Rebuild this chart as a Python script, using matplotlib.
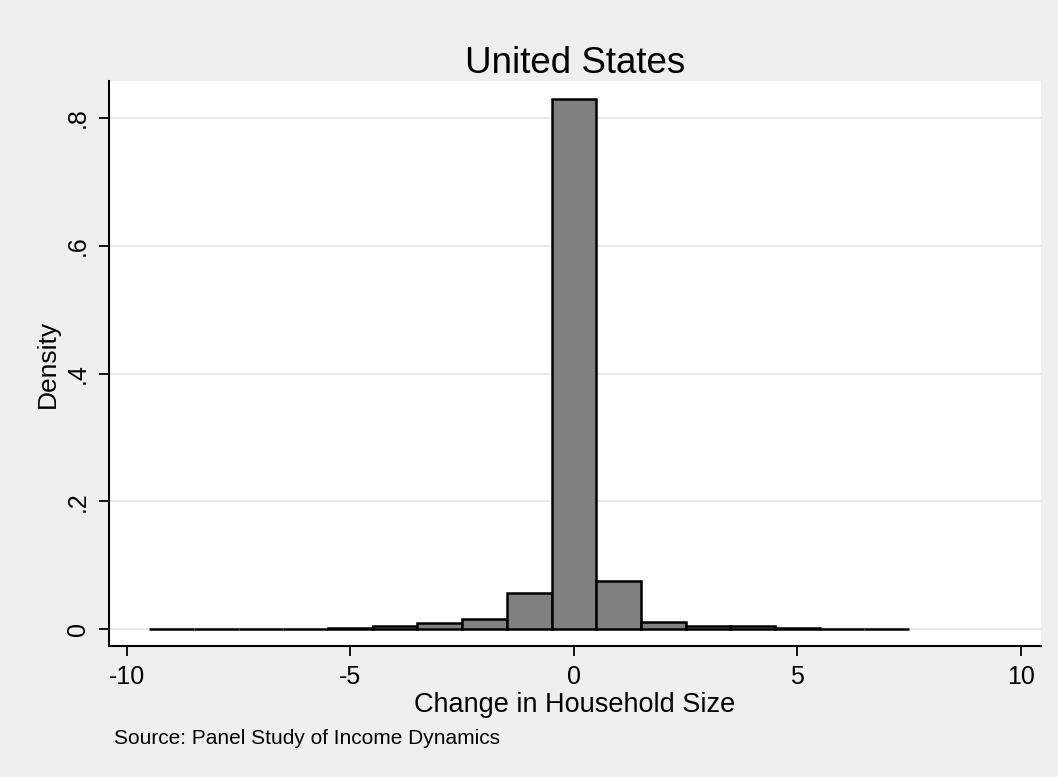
import numpy as np
from matplotlib import pyplot as plt

plt.rcParams['font.family'] = ['Liberation Sans', 'DejaVu Sans']

# bin centres (change in household size) and densities
change = [-9, -8, -7, -6, -5, -4, -3, -2, -1, 0, 1, 2, 3, 4, 5, 6, 7]
density = [0.0005, 0.0005, 0.0005, 0.0006, 0.0008, 0.005, 0.009, 0.0155,
           0.056, 0.830, 0.075, 0.0115, 0.0045, 0.0045, 0.001, 0.0006, 0.0005]

xticks = [-10, -5, 0, 5, 10]
xticklabels = ["-10", "-5", "0", "5", "10"]
yticks = [0, 0.2, 0.4, 0.6, 0.8]
yticklabels = ["0", ".2", ".4", ".6", ".8"]

bg = "#efefef"
fig = plt.figure(figsize=(10.58, 7.77), dpi=100, facecolor=bg)
ax = fig.add_axes([0.1030, 0.1686, 0.8809, 0.7272])
ax.set_facecolor("white")

ax.bar(change, density, width=1.0, color="#808080", edgecolor="black",
       linewidth=1.8, zorder=3)

ax.set_xlim(-10.4, 10.45)
ax.set_ylim(-0.0266, 0.858)
ax.set_xticks(xticks)
ax.set_xticklabels(xticklabels)
ax.set_yticks(yticks)
ax.set_yticklabels(yticklabels, rotation=90, va="center")

ax.grid(axis="y", color="#e6e6e6", linewidth=1.2, zorder=0)
ax.set_axisbelow(True)

for s in ["top", "right"]:
    ax.spines[s].set_visible(False)
for s in ["left", "bottom"]:
    ax.spines[s].set_linewidth(1.5)

ax.tick_params(axis="both", length=7, width=1.3, labelsize=18, pad=7)

ax.set_xlabel("Change in Household Size", fontsize=19.5, labelpad=2)
ax.set_ylabel("Density", fontsize=19, labelpad=4)
ax.set_title("United States", fontsize=26.5, pad=6)

fig.text(0.108, 0.050, "Source: Panel Study of Income Dynamics",
         fontsize=15, va="center", ha="left")

plt.savefig("out.png", dpi=100, facecolor=bg)
